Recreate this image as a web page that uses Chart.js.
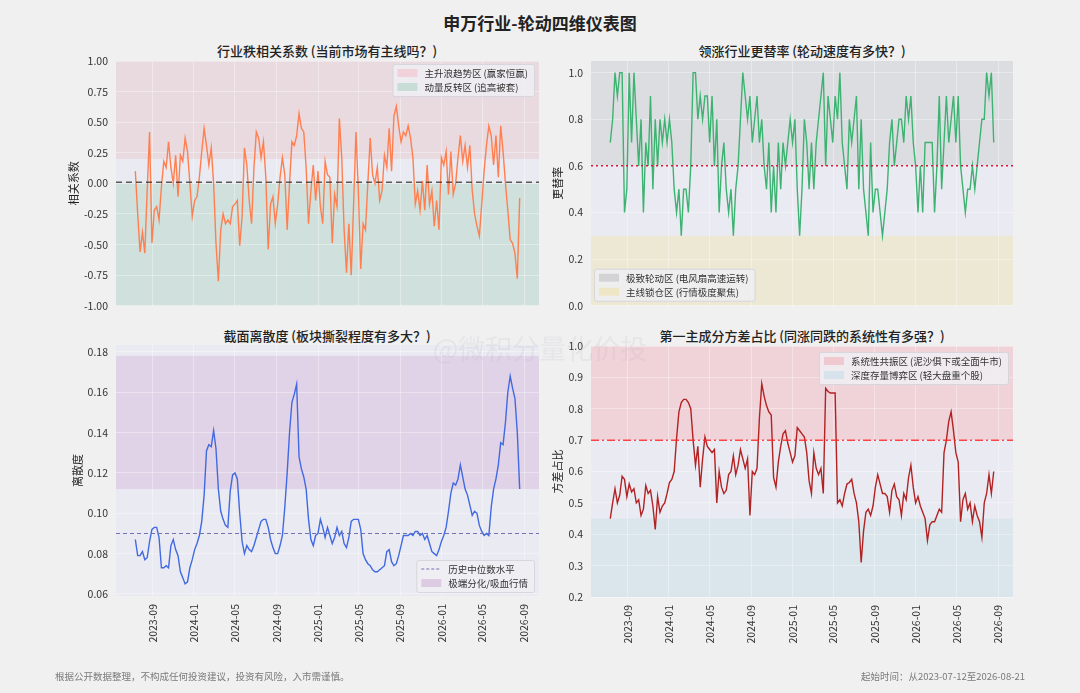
<!DOCTYPE html>
<html>
<head>
<meta charset="utf-8">
<script src="https://cdn.jsdelivr.net/npm/chart.js@4.4.1/dist/chart.umd.min.js"></script>
<style>
  body { margin: 0; width: 1080px; height: 693px; background: #f0f0f0; position: relative; overflow: hidden;
         font-family: "Noto Sans CJK SC", "Noto Sans", sans-serif; }
  .panel { position: absolute; }
  .txt { position: absolute; white-space: nowrap; transform: translate(-50%, -50%); color: #222; }
  #mainTitle { left: 540px; top: 22px; font-size: 17px; font-weight: bold; }
  .sub { font-size: 13px; font-weight: 500; }
  #watermark { left: 540px; top: 347px; font-size: 27px; color: rgba(165,165,175,0.13); }
  .foot { position: absolute; top: 669px; font-size: 9.5px; color: #7a7a7a; white-space: nowrap; }
</style>
</head>
<body>
<div id="mainTitle" class="txt">申万行业-轮动四维仪表图</div>
<div class="txt sub" style="left:327px;top:50px">行业秩相关系数 (当前市场有主线吗？)</div>
<div class="txt sub" style="left:802px;top:50px">领涨行业更替率 (轮动速度有多快？)</div>
<div class="txt sub" style="left:327px;top:335px">截面离散度 (板块撕裂程度有多大？)</div>
<div class="txt sub" style="left:802px;top:335px">第一主成分方差占比 (同涨同跌的系统性有多强？)</div>

<canvas id="corrChart" class="panel" style="left:40px;top:40px" width="510" height="280"></canvas>
<canvas id="turnChart" class="panel" style="left:520px;top:40px" width="510" height="280"></canvas>
<canvas id="dispChart" class="panel" style="left:40px;top:320px" width="510" height="373"></canvas>
<canvas id="pcaChart" class="panel" style="left:520px;top:320px" width="510" height="373"></canvas>

<div id="watermark" class="txt">@微积分量化价投</div>
<div class="foot" style="left:55px">根据公开数据整理，不构成任何投资建议，投资有风险，入市需谨慎。</div>
<div class="foot" style="right:55px">起始时间：从2023-07-12至2026-08-21</div>

<script>
// weekly samples starting 2023-07-12
const startDate = Date.UTC(2023, 6, 12);
const stepDays = 7;
const DAY = 86400000;

const xTickLabels = ['2023-09', '2024-01', '2024-05', '2024-09', '2025-01', '2025-05',
                     '2025-09', '2026-01', '2026-05', '2026-09'];

// 行业秩相关系数
const rankCorr = [
  0.10, -0.25, -0.56, -0.40, -0.57, -0.06, 0.42, -0.49, -0.22, -0.19,
  -0.30, -0.03, 0.18, 0.13, 0.34, 0.13, 0.00, 0.23, -0.11, 0.23,
  0.18, 0.37, 0.26, 0.00, -0.27, -0.14, -0.11, 0.05, 0.26, 0.45,
  0.31, 0.15, 0.29, 0.00, -0.49, -0.80, -0.38, -0.25, -0.33, -0.30,
  -0.33, -0.19, -0.17, -0.14, -0.51, -0.27, 0.29, 0.15, -0.14, -0.33,
  0.13, 0.42, 0.37, 0.21, 0.34, 0.05, -0.54, -0.17, -0.11, -0.33,
  -0.17, 0.05, 0.21, 0.07, -0.38, 0.00, 0.34, 0.31, 0.39, 0.57,
  0.45, 0.42, 0.13, -0.33, -0.06, 0.15, -0.14, 0.10, -0.19, -0.33,
  0.18, 0.07, 0.05, -0.49, -0.09, -0.19, 0.53, 0.21, -0.38, -0.73,
  -0.33, -0.75, -0.17, 0.42, -0.06, -0.70, -0.33, -0.38, 0.00, 0.37,
  0.07, 0.00, 0.13, -0.14, -0.06, 0.23, 0.13, 0.45, 0.10, 0.55,
  0.63, 0.47, 0.34, 0.42, 0.39, 0.47, 0.37, 0.21, -0.17, -0.06,
  -0.22, 0.02, -0.22, 0.15, -0.17, -0.06, -0.35, -0.14, -0.38, 0.21,
  0.15, 0.26, -0.09, 0.26, -0.09, 0.00, 0.21, 0.39, 0.18, 0.31,
  0.13, 0.31, -0.06, -0.25, -0.35, -0.43, -0.17, 0.10, 0.31, 0.47,
  0.39, 0.15, 0.39, 0.05, 0.47, 0.26, 0.00, -0.22, -0.46, -0.49,
  -0.57, -0.78, -0.12
];

// 领涨行业更替率
const turnoverRate = [
  0.7, 0.8, 1.0, 0.9, 1.0, 1.0, 0.4, 0.5, 1.0, 0.7,
  1.0, 0.8, 0.6, 0.8, 0.4, 0.7, 0.6, 0.9, 0.5, 0.8,
  0.6, 0.8, 0.7, 0.8, 0.7, 0.8, 0.7, 0.5, 0.4, 0.5,
  0.3, 0.5, 0.5, 0.4, 0.6, 1.0, 1.0, 0.8, 0.9, 0.8,
  0.9, 0.9, 0.7, 0.9, 0.6, 0.8, 0.4, 0.6, 0.7, 0.5,
  0.4, 0.5, 0.3, 0.5, 0.6, 0.8, 1.0, 0.9, 0.8, 0.9,
  0.7, 0.8, 0.9, 0.7, 0.8, 0.6, 0.5, 0.7, 0.4, 0.6,
  0.4, 0.7, 0.5, 0.7, 0.6, 0.7, 0.8, 0.7, 0.8, 0.5,
  0.3, 0.5, 0.8, 0.7, 0.5, 0.7, 0.5, 0.7, 0.8, 0.9,
  1.0, 0.6, 0.9, 0.8, 0.7, 0.9, 0.8, 1.0, 0.7, 0.6,
  0.5, 0.8, 0.7, 0.8, 0.9, 0.5, 0.8, 0.5, 0.4, 0.3,
  0.7, 0.4, 0.5, 0.5, 0.4, 0.3, 0.4, 0.5, 0.7, 0.8,
  0.6, 0.7, 0.8, 0.8, 0.7, 0.9, 0.8, 0.9, 0.7, 0.6,
  0.4, 0.6, 0.4, 0.7, 0.7, 0.7, 0.7, 0.4, 0.6, 0.9,
  0.5, 0.7, 0.9, 0.7, 0.8, 0.9, 0.7, 0.9, 0.6, 0.5,
  0.4, 0.5, 0.5, 0.6, 0.5, 0.6, 0.7, 0.8, 0.8, 1.0,
  0.9, 1.0, 0.7
];

// 截面离散度
const dispersion = [
  0.087, 0.079, 0.079, 0.081, 0.077, 0.078, 0.086, 0.092, 0.093, 0.093,
  0.088, 0.073, 0.073, 0.074, 0.073, 0.084, 0.087, 0.082, 0.079, 0.071,
  0.068, 0.065, 0.066, 0.073, 0.077, 0.082, 0.085, 0.089, 0.096, 0.109,
  0.131, 0.134, 0.133, 0.141, 0.132, 0.112, 0.101, 0.097, 0.094, 0.093,
  0.111, 0.119, 0.120, 0.117, 0.100, 0.086, 0.080, 0.084, 0.082, 0.081,
  0.084, 0.088, 0.092, 0.096, 0.097, 0.097, 0.093, 0.087, 0.083, 0.080,
  0.080, 0.084, 0.089, 0.103, 0.120, 0.140, 0.155, 0.159, 0.164, 0.128,
  0.122, 0.118, 0.112, 0.097, 0.087, 0.084, 0.089, 0.090, 0.097, 0.093,
  0.088, 0.093, 0.089, 0.085, 0.088, 0.093, 0.089, 0.091, 0.085, 0.083,
  0.088, 0.096, 0.097, 0.097, 0.097, 0.092, 0.080, 0.077, 0.075, 0.074,
  0.072, 0.071, 0.071, 0.072, 0.073, 0.074, 0.081, 0.082, 0.076, 0.074,
  0.075, 0.079, 0.084, 0.089, 0.089, 0.089, 0.090, 0.089, 0.091, 0.091,
  0.089, 0.090, 0.087, 0.089, 0.085, 0.081, 0.080, 0.079, 0.082, 0.086,
  0.089, 0.093, 0.101, 0.110, 0.115, 0.114, 0.117, 0.124, 0.118, 0.112,
  0.109, 0.104, 0.099, 0.101, 0.100, 0.094, 0.091, 0.089, 0.090, 0.089,
  0.103, 0.112, 0.117, 0.124, 0.135, 0.134, 0.145, 0.160, 0.168, 0.162,
  0.157, 0.140, 0.112
];

// 第一主成分方差占比
const pc1Share = [
  0.45, 0.50, 0.545, 0.50, 0.525, 0.585, 0.575, 0.52, 0.56, 0.535,
  0.545, 0.50, 0.51, 0.46, 0.48, 0.555, 0.53, 0.54, 0.49, 0.415,
  0.52, 0.47, 0.49, 0.50, 0.53, 0.565, 0.575, 0.60, 0.705, 0.79,
  0.82, 0.83, 0.83, 0.82, 0.80, 0.70, 0.62, 0.68, 0.55, 0.64,
  0.71, 0.68, 0.67, 0.66, 0.67, 0.50, 0.60, 0.55, 0.53, 0.54,
  0.59, 0.60, 0.65, 0.59, 0.62, 0.67, 0.64, 0.61, 0.64, 0.46,
  0.60, 0.59, 0.61, 0.77, 0.88, 0.84, 0.81, 0.79, 0.78, 0.58,
  0.55, 0.63, 0.68, 0.72, 0.73, 0.69, 0.66, 0.63, 0.65, 0.74,
  0.73, 0.72, 0.71, 0.66, 0.57, 0.53, 0.66, 0.61, 0.59, 0.61,
  0.53, 0.865, 0.855, 0.85, 0.85, 0.85, 0.50, 0.51, 0.49, 0.53,
  0.56, 0.565, 0.575, 0.53, 0.50, 0.44, 0.31, 0.41, 0.47, 0.48,
  0.46, 0.49, 0.55, 0.59, 0.56, 0.53, 0.53, 0.52, 0.47, 0.54,
  0.56, 0.52, 0.51, 0.46, 0.53, 0.51, 0.58, 0.62, 0.55, 0.50,
  0.52, 0.49, 0.47, 0.45, 0.38, 0.43, 0.44, 0.44, 0.46, 0.48,
  0.47, 0.66, 0.70, 0.76, 0.79, 0.73, 0.66, 0.63, 0.44, 0.51,
  0.53, 0.48, 0.50, 0.44, 0.49, 0.46, 0.44, 0.39, 0.50, 0.53,
  0.59, 0.53, 0.60
];

const corrTicks = [-1, -0.75, -0.5, -0.25, 0, 0.25, 0.5, 0.75, 1];
const turnTicks = [0, 0.2, 0.4, 0.6, 0.8, 1.0];
const dispTicks = [0.06, 0.08, 0.10, 0.12, 0.14, 0.16, 0.18];
const pcaTicks = [0.2, 0.3, 0.4, 0.5, 0.6, 0.7, 0.8, 0.9, 1.0];

const xMin = Date.UTC(2023, 4, 16);
const xMax = Date.UTC(2026, 9, 15);
const xTicks = xTickLabels.map(s => Date.UTC(+s.slice(0, 4), +s.slice(5, 7) - 1, 1));

const FONT = '"Noto Sans CJK SC", "Noto Sans", sans-serif';
const PLOT_BG = '#eaeaf2';
const GRID = 'rgba(255,255,255,0.35)';

// shaded zones + plot background, drawn under the grid
const bandPlugin = {
    id: 'bands',
    beforeDraw(chart, args, opts) {
        const { ctx, chartArea: a, scales: { y } } = chart;
        ctx.save();
        ctx.fillStyle = PLOT_BG;
        ctx.fillRect(a.left, a.top, a.width, a.height);
        (opts.zones || []).forEach(z => {
            const top = Math.max(a.top, y.getPixelForValue(z.to));
            const bot = Math.min(a.bottom, y.getPixelForValue(z.from));
            ctx.fillStyle = z.color;
            ctx.fillRect(a.left, top, a.width, bot - top);
        });
        ctx.restore();
    }
};

// small framed legend inside the plot area
const boxLegendPlugin = {
    id: 'boxLegend',
    afterDraw(chart, args, opts) {
        if (!opts.items) return;
        const { ctx, chartArea: a } = chart;
        ctx.save();
        ctx.font = `9.5px ${FONT}`;
        const rowH = 14;
        const textW = Math.max(...opts.items.map(it => ctx.measureText(it.label).width));
        const w = 32 + textW + 6;
        const h = rowH * opts.items.length + 4;
        let left, top;
        if (opts.corner === 'tr') { left = a.right - 5 - w; top = a.top + opts.inset; }
        if (opts.corner === 'bl') { left = a.left + 3; top = a.bottom - opts.inset - h; }
        if (opts.corner === 'br') { left = a.right - 5 - w; top = a.bottom - opts.inset - h; }
        ctx.fillStyle = 'rgba(238,238,243,0.85)';
        ctx.strokeStyle = '#d6d6dc';
        ctx.lineWidth = 1;
        ctx.beginPath();
        ctx.roundRect(left + 0.5, top + 0.5, w, h, 2);
        ctx.fill();
        ctx.stroke();
        opts.items.forEach((it, i) => {
            const cy = top + 2 + rowH * i + rowH / 2;
            if (it.kind === 'line') {
                ctx.strokeStyle = it.color;
                ctx.lineWidth = 1.2;
                ctx.setLineDash(it.dash || []);
                ctx.beginPath();
                ctx.moveTo(left + 5, cy);
                ctx.lineTo(left + 25, cy);
                ctx.stroke();
                ctx.setLineDash([]);
            } else {
                ctx.fillStyle = it.color;
                ctx.fillRect(left + 5, cy - 4, 20, 8);
            }
            ctx.fillStyle = '#333';
            ctx.textBaseline = 'middle';
            ctx.fillText(it.label, left + 32, cy + 0.5);
        });
        ctx.restore();
    }
};

function buildPanel(id, cfg) {
    const series = cfg.values.map((v, i) => ({ x: startDate + i * stepDays * DAY, y: v }));
    const refLine = [{ x: xMin, y: cfg.ref.value }, { x: xMax, y: cfg.ref.value }];
    return new Chart(document.getElementById(id), {
        type: 'line',
        data: {
            datasets: [
                { data: series, borderColor: cfg.color, borderWidth: 1.4, pointRadius: 0, tension: 0, order: 1 },
                { data: refLine, borderColor: cfg.ref.color, borderDash: cfg.ref.dash, borderWidth: cfg.ref.width,
                  pointRadius: 0, order: 0 }
            ]
        },
        options: {
            responsive: false,
            animation: false,
            events: [],
            layout: { padding: { left: cfg.padLeft, top: cfg.padTop, right: cfg.padRight, bottom: 0 } },
            plugins: {
                legend: { display: false },
                tooltip: { enabled: false },
                bands: { zones: cfg.zones },
                boxLegend: cfg.legend
            },
            scales: {
                x: {
                    type: 'linear',
                    min: xMin,
                    max: xMax,
                    afterBuildTicks: s => { s.ticks = xTicks.map(v => ({ value: v })); },
                    afterFit: s => { s.height = cfg.xHeight; },
                    ticks: {
                        display: cfg.showX,
                        maxRotation: 90,
                        minRotation: 90,
                        padding: 8,
                        color: '#333',
                        font: { family: FONT, size: 10.5 },
                        callback: (v, i) => xTickLabels[i]
                    },
                    grid: { color: GRID, drawTicks: false },
                    border: { display: false }
                },
                y: {
                    min: cfg.yMin,
                    max: cfg.yMax,
                    afterBuildTicks: s => { s.ticks = cfg.yTicks.map(v => ({ value: v })); },
                    afterFit: s => { s.width = cfg.yWidth; },
                    ticks: {
                        padding: 8,
                        color: '#333',
                        font: { family: FONT, size: 10.5 },
                        callback: v => v.toFixed(cfg.decimals)
                    },
                    grid: { color: GRID, drawTicks: false },
                    border: { display: false },
                    title: { display: true, text: cfg.yTitle, color: '#222',
                             font: { family: FONT, size: 11 }, padding: { top: 0, bottom: 0 } }
                }
            }
        },
        plugins: [bandPlugin, boxLegendPlugin]
    });
}

buildPanel('corrChart', {
    values: rankCorr, color: '#ff7f50', yTitle: '相关系数',
    yMin: -1, yMax: 1, yTicks: corrTicks, decimals: 2,
    padLeft: 27, yWidth: 49, padTop: 21, padRight: 11, xHeight: 9, showX: false,
    ref: { value: 0.01, color: 'rgba(40,40,40,0.75)', dash: [6, 4], width: 1.5 },
    zones: [
        { from: 0.2, to: 1.0, color: '#e9dadf' },
        { from: -1.0, to: 0.0, color: '#d0e0dc' }
    ],
    legend: { corner: 'tr', inset: 3, items: [
        { kind: 'box', color: '#f1d2da', label: '主升浪趋势区 (赢家恒赢)' },
        { kind: 'box', color: '#c9ddd7', label: '动量反转区 (追高被套)' }
    ] }
});

buildPanel('turnChart', {
    values: turnoverRate, color: '#3cb371', yTitle: '更替率',
    yMin: 0, yMax: 1.05, yTicks: turnTicks, decimals: 1,
    padLeft: 31, yWidth: 40, padTop: 21, padRight: 17, xHeight: 9, showX: false,
    ref: { value: 0.6, color: '#dc143c', dash: [2, 3], width: 1.5 },
    zones: [
        { from: 0.6, to: 1.05, color: '#dcdde1' },
        { from: 0.0, to: 0.3, color: '#ede8d3' }
    ],
    legend: { corner: 'bl', inset: 5, items: [
        { kind: 'box', color: '#d3d3d6', label: '极致轮动区 (电风扇高速运转)' },
        { kind: 'box', color: '#efe6c6', label: '主线锁仓区 (行情极度聚焦)' }
    ] }
});

buildPanel('dispChart', {
    values: dispersion, color: '#4169e1', yTitle: '离散度',
    yMin: 0.059, yMax: 0.1834, yTicks: dispTicks, decimals: 2,
    padLeft: 31, yWidth: 45, padTop: 25, padRight: 11, xHeight: 97, showX: true,
    ref: { value: 0.09, color: '#7272b6', dash: [4, 3], width: 1.1 },
    zones: [
        { from: 0.112, to: 0.178, color: '#e1d3e7' }
    ],
    legend: { corner: 'br', inset: 4, items: [
        { kind: 'line', color: '#7272b6', dash: [3, 2], label: '历史中位数水平' },
        { kind: 'box', color: '#dccbe3', label: '极端分化/吸血行情' }
    ] }
});

buildPanel('pcaChart', {
    values: pc1Share, color: '#b22222', yTitle: '方差占比',
    yMin: 0.2, yMax: 1.0, yTicks: pcaTicks, decimals: 1,
    padLeft: 31, yWidth: 40, padTop: 26, padRight: 17, xHeight: 96, showX: true,
    ref: { value: 0.7, color: 'rgba(255,40,40,0.85)', dash: [8, 3, 2, 3], width: 1.5 },
    zones: [
        { from: 0.7, to: 1.0, color: '#efd3d8' },
        { from: 0.2, to: 0.45, color: '#dae5ec' }
    ],
    legend: { corner: 'tr', inset: 6, items: [
        { kind: 'box', color: '#f0c8cf', label: '系统性共振区 (泥沙俱下或全面牛市)' },
        { kind: 'box', color: '#d6e3ec', label: '深度存量博弈区 (轻大盘重个股)' }
    ] }
});
</script>
</body>
</html>
